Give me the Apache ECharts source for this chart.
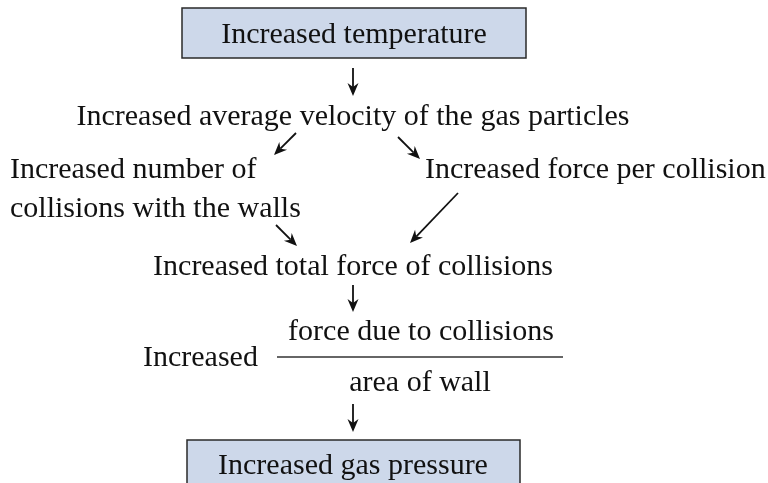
<!DOCTYPE html>
<html><head><meta charset="utf-8">
<script src="https://cdn.jsdelivr.net/npm/echarts@6/dist/echarts.min.js"></script>
<style>html,body{margin:0;padding:0;background:#fff}#c{width:768px;height:483px}</style>
</head><body><div id="c"></div>
<script>
// ---- content (text) ----
const boxLabels = ['Increased temperature', 'Increased gas pressure'];
const stepLabels = [
  'Increased average velocity of the gas particles',
  'Increased number of',
  'collisions with the walls',
  'Increased force per collision',
  'Increased total force of collisions'
];
const fractionLabels = ['Increased', 'force due to collisions', 'area of wall'];

// ---- layout ----
const FONT = '"Liberation Serif", "Times New Roman", serif';
const FS = 30;
const DY = 2;
const boxes = [
  {x: 182, y: 8, w: 344, h: 50, cx: 354, cy: 33},
  {x: 187, y: 440, w: 333, h: 60, cx: 353, cy: 464}
];
const stepPos = [
  {x: 353, y: 115, align: 'center'},
  {x: 10, y: 168, align: 'left'},
  {x: 10, y: 207, align: 'left'},
  {x: 425, y: 168, align: 'left'},
  {x: 353, y: 265, align: 'center'}
];
const fracPos = [
  {x: 143, y: 356, align: 'left'},
  {x: 421, y: 330, align: 'center'},
  {x: 420, y: 381, align: 'center'}
];
const arrows = [
  [353, 68, 353, 96],
  [296, 133, 274, 155],
  [398, 137, 420, 159],
  [458, 193, 410, 243],
  [276, 225, 297, 246],
  [353, 285, 353, 312],
  [353, 404, 353, 432]
];

const g = [];
function txt(s, x, y, align) {
  return {type: 'text', x: x, y: y + DY, silent: true,
    style: {text: s, fill: '#111', font: FS + 'px ' + FONT, textAlign: align, textVerticalAlign: 'middle'}};
}
boxes.forEach((b, i) => {
  g.push({type: 'rect', shape: {x: b.x, y: b.y, width: b.w, height: b.h},
    style: {fill: '#cdd8ea', stroke: '#2a2a2a', lineWidth: 1.5}});
  g.push(txt(boxLabels[i], b.cx, b.cy, 'center'));
});
stepLabels.forEach((s, i) => g.push(txt(s, stepPos[i].x, stepPos[i].y, stepPos[i].align)));
fractionLabels.forEach((s, i) => g.push(txt(s, fracPos[i].x, fracPos[i].y, fracPos[i].align)));
g.push({type: 'line', shape: {x1: 277, y1: 357, x2: 563, y2: 357}, style: {stroke: '#333', lineWidth: 1.5}});

arrows.forEach(a => {
  const [x1, y1, x2, y2] = a;
  const ang = Math.atan2(y2 - y1, x2 - x1);
  const L = 13, W = 5.5, N = 9;
  const bx = x2 - L * Math.cos(ang), by = y2 - L * Math.sin(ang);
  const nx = x2 - N * Math.cos(ang), ny = y2 - N * Math.sin(ang);
  const px = -Math.sin(ang), py = Math.cos(ang);
  g.push({type: 'line', shape: {x1: x1, y1: y1, x2: nx, y2: ny}, style: {stroke: '#111', lineWidth: 1.8}});
  g.push({type: 'polygon', shape: {points: [[x2, y2], [bx + px * W, by + py * W], [nx, ny], [bx - px * W, by - py * W]]},
    style: {fill: '#111'}});
});

const chart = echarts.init(document.getElementById('c'), null, {renderer: 'canvas'});
chart.setOption({backgroundColor: '#fff', animation: false, graphic: g});
</script></body></html>
